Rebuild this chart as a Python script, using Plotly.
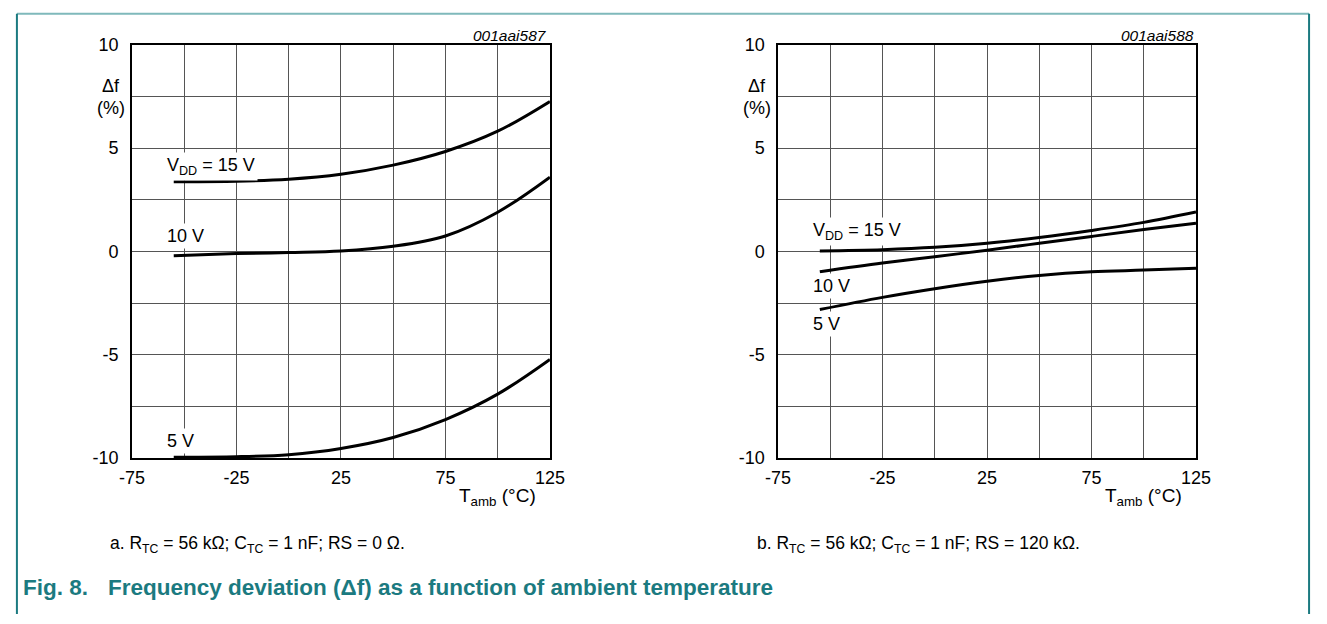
import plotly.graph_objects as go

W, H = 1327, 624

# ---- data ----
temps = [-55, -25, 0, 25, 50, 75, 100, 125]

# panel a: RS = 0 ohm
df_a_15v = [3.38, 3.40, 3.50, 3.74, 4.18, 4.84, 5.82, 7.26]
df_a_10v = [-0.20, -0.10, -0.05, 0.02, 0.25, 0.75, 1.90, 3.60]
df_a_5v = [-9.95, -9.93, -9.83, -9.53, -9.00, -8.13, -6.90, -5.22]

# panel b: RS = 120 kohm
df_b_15v = [0.03, 0.09, 0.20, 0.40, 0.68, 1.02, 1.41, 1.91]
df_b_10v = [-0.98, -0.56, -0.25, 0.06, 0.40, 0.73, 1.06, 1.37]
df_b_5v = [-2.81, -2.22, -1.80, -1.44, -1.16, -0.98, -0.90, -0.81]

x_tickvals = [-75, -50, -25, 0, 25, 50, 75, 100, 125]
x_ticktext = ["-75", "", "-25", "", "25", "", "75", "", "125"]
y_tickvals = [-10, -7.5, -5, -2.5, 0, 2.5, 5, 7.5, 10]
y_ticktext = ["-10", "", "-5", "", "0", "", "5", "", "10"]

# ---- helpers: pixel -> paper ----
def px(x):
    return x / W

def py(y):
    return 1 - y / H

FONT = "Liberation Sans, Arial, sans-serif"
TEAL = "#1b7a80"

fig = go.Figure()

panels = [
    ("x", "y", [df_a_15v, df_a_10v, df_a_5v]),
    ("x2", "y2", [df_b_15v, df_b_10v, df_b_5v]),
]
for xa, ya, series in panels:
    for s in series:
        fig.add_trace(go.Scatter(
            x=temps, y=s, xaxis=xa, yaxis=ya, mode="lines",
            line=dict(color="black", width=3, shape="spline", smoothing=1.0),
            showlegend=False, hoverinfo="skip",
        ))

ydom = [py(463), py(36)]
axis_common = dict(
    showline=True, mirror=True, linecolor="black", linewidth=1.5,
    showgrid=True, gridcolor="#555555", gridwidth=1, zeroline=False,
    ticks="", tickfont=dict(family=FONT, size=18, color="black"),
    fixedrange=True,
)
fig.update_layout(
    width=W, height=H, autosize=False,
    margin=dict(l=0, r=0, t=0, b=0),
    paper_bgcolor="white", plot_bgcolor="white",
    xaxis=dict(domain=[px(121.5), px(548.5)], range=[-75, 125],
               tickvals=x_tickvals, ticktext=x_ticktext, anchor="y",
               ticklabelstandoff=2, **axis_common),
    yaxis=dict(domain=ydom, range=[-10, 10],
               tickvals=y_tickvals, ticktext=y_ticktext, anchor="x",
               ticklabelstandoff=8, **axis_common),
    xaxis2=dict(domain=[px(781.5), px(1208.5)], range=[-75, 125],
                tickvals=x_tickvals, ticktext=x_ticktext, anchor="y2",
                ticklabelstandoff=2, **axis_common),
    yaxis2=dict(domain=ydom, range=[-10, 10],
                tickvals=y_tickvals, ticktext=y_ticktext, anchor="x2",
                ticklabelstandoff=8, **axis_common),
)

ann = []

def curve_label(text, xref, yref, x, y):
    ann.append(dict(text=text, xref=xref, yref=yref, x=x, y=y,
                    xanchor="left", yanchor="middle", showarrow=False,
                    bgcolor="white", borderpad=2,
                    font=dict(family=FONT, size=18, color="black")))

# panel a curve labels
curve_label("V<sub>DD</sub> = 15 V", "x", "y", -59.5, 4.10)
curve_label("10 V", "x", "y", -59.5, 0.75)
curve_label("5 V", "x", "y", -59.5, -9.16)
# panel b curve labels
curve_label("V<sub>DD</sub> = 15 V", "x2", "y2", -59.5, 0.98)
curve_label("10 V", "x2", "y2", -59.5, -1.66)
curve_label("5 V", "x2", "y2", -59.5, -3.49)

def text(t, x, y, size=16, xanchor="center", italic=False, bold=False, color="black"):
    if italic:
        t = "<i>" + t + "</i>"
    if bold:
        t = "<b>" + t + "</b>"
    ann.append(dict(text=t, xref="paper", yref="paper", x=px(x), y=py(y),
                    xanchor=xanchor, yanchor="middle", showarrow=False,
                    font=dict(family=FONT, size=size, color=color)))

for off, code in [(0, "001aai587"), (660, "001aai588")]:
    text(code, 548 + off, 26, size=15.5, xanchor="right", italic=True)
    text("Δf", 100 + off, 78, size=18)
    text("(%)", 100 + off, 101, size=18)
    text("T<sub>amb</sub> (°C)", 495 + off, 503, size=19)

text("a. R<sub>TC</sub> = 56 kΩ; C<sub>TC</sub> = 1 nF; RS = 0 Ω.", 97, 552, size=17.5, xanchor="left")
text("b. R<sub>TC</sub> = 56 kΩ; C<sub>TC</sub> = 1 nF; RS = 120 kΩ.", 758, 552, size=17.5, xanchor="left")
text("Fig. 8.", 8, 597, size=22.5, xanchor="left", bold=True, color=TEAL)
text("Frequency deviation (Δf) as a function of ambient temperature", 95, 597,
     size=22.5, xanchor="left", bold=True, color=TEAL)

fig.update_layout(annotations=ann)

# frame around the figure
shapes = [
    dict(type="line", xref="paper", yref="paper", x0=px(4), x1=px(1324), y0=py(4), y1=py(4),
         line=dict(color="#7fb9bb", width=2)),
    dict(type="line", xref="paper", yref="paper", x0=px(4), x1=px(4), y0=py(4), y1=py(624),
         line=dict(color=TEAL, width=2)),
    dict(type="line", xref="paper", yref="paper", x0=px(1324), x1=px(1324), y0=py(4), y1=py(624),
         line=dict(color=TEAL, width=2)),
]
fig.update_layout(shapes=shapes)

fig.write_html(
    "out.html",
    config=dict(displayModeBar=False),
    post_script="document.body.style.margin='0';document.body.style.overflow='hidden';",
)
